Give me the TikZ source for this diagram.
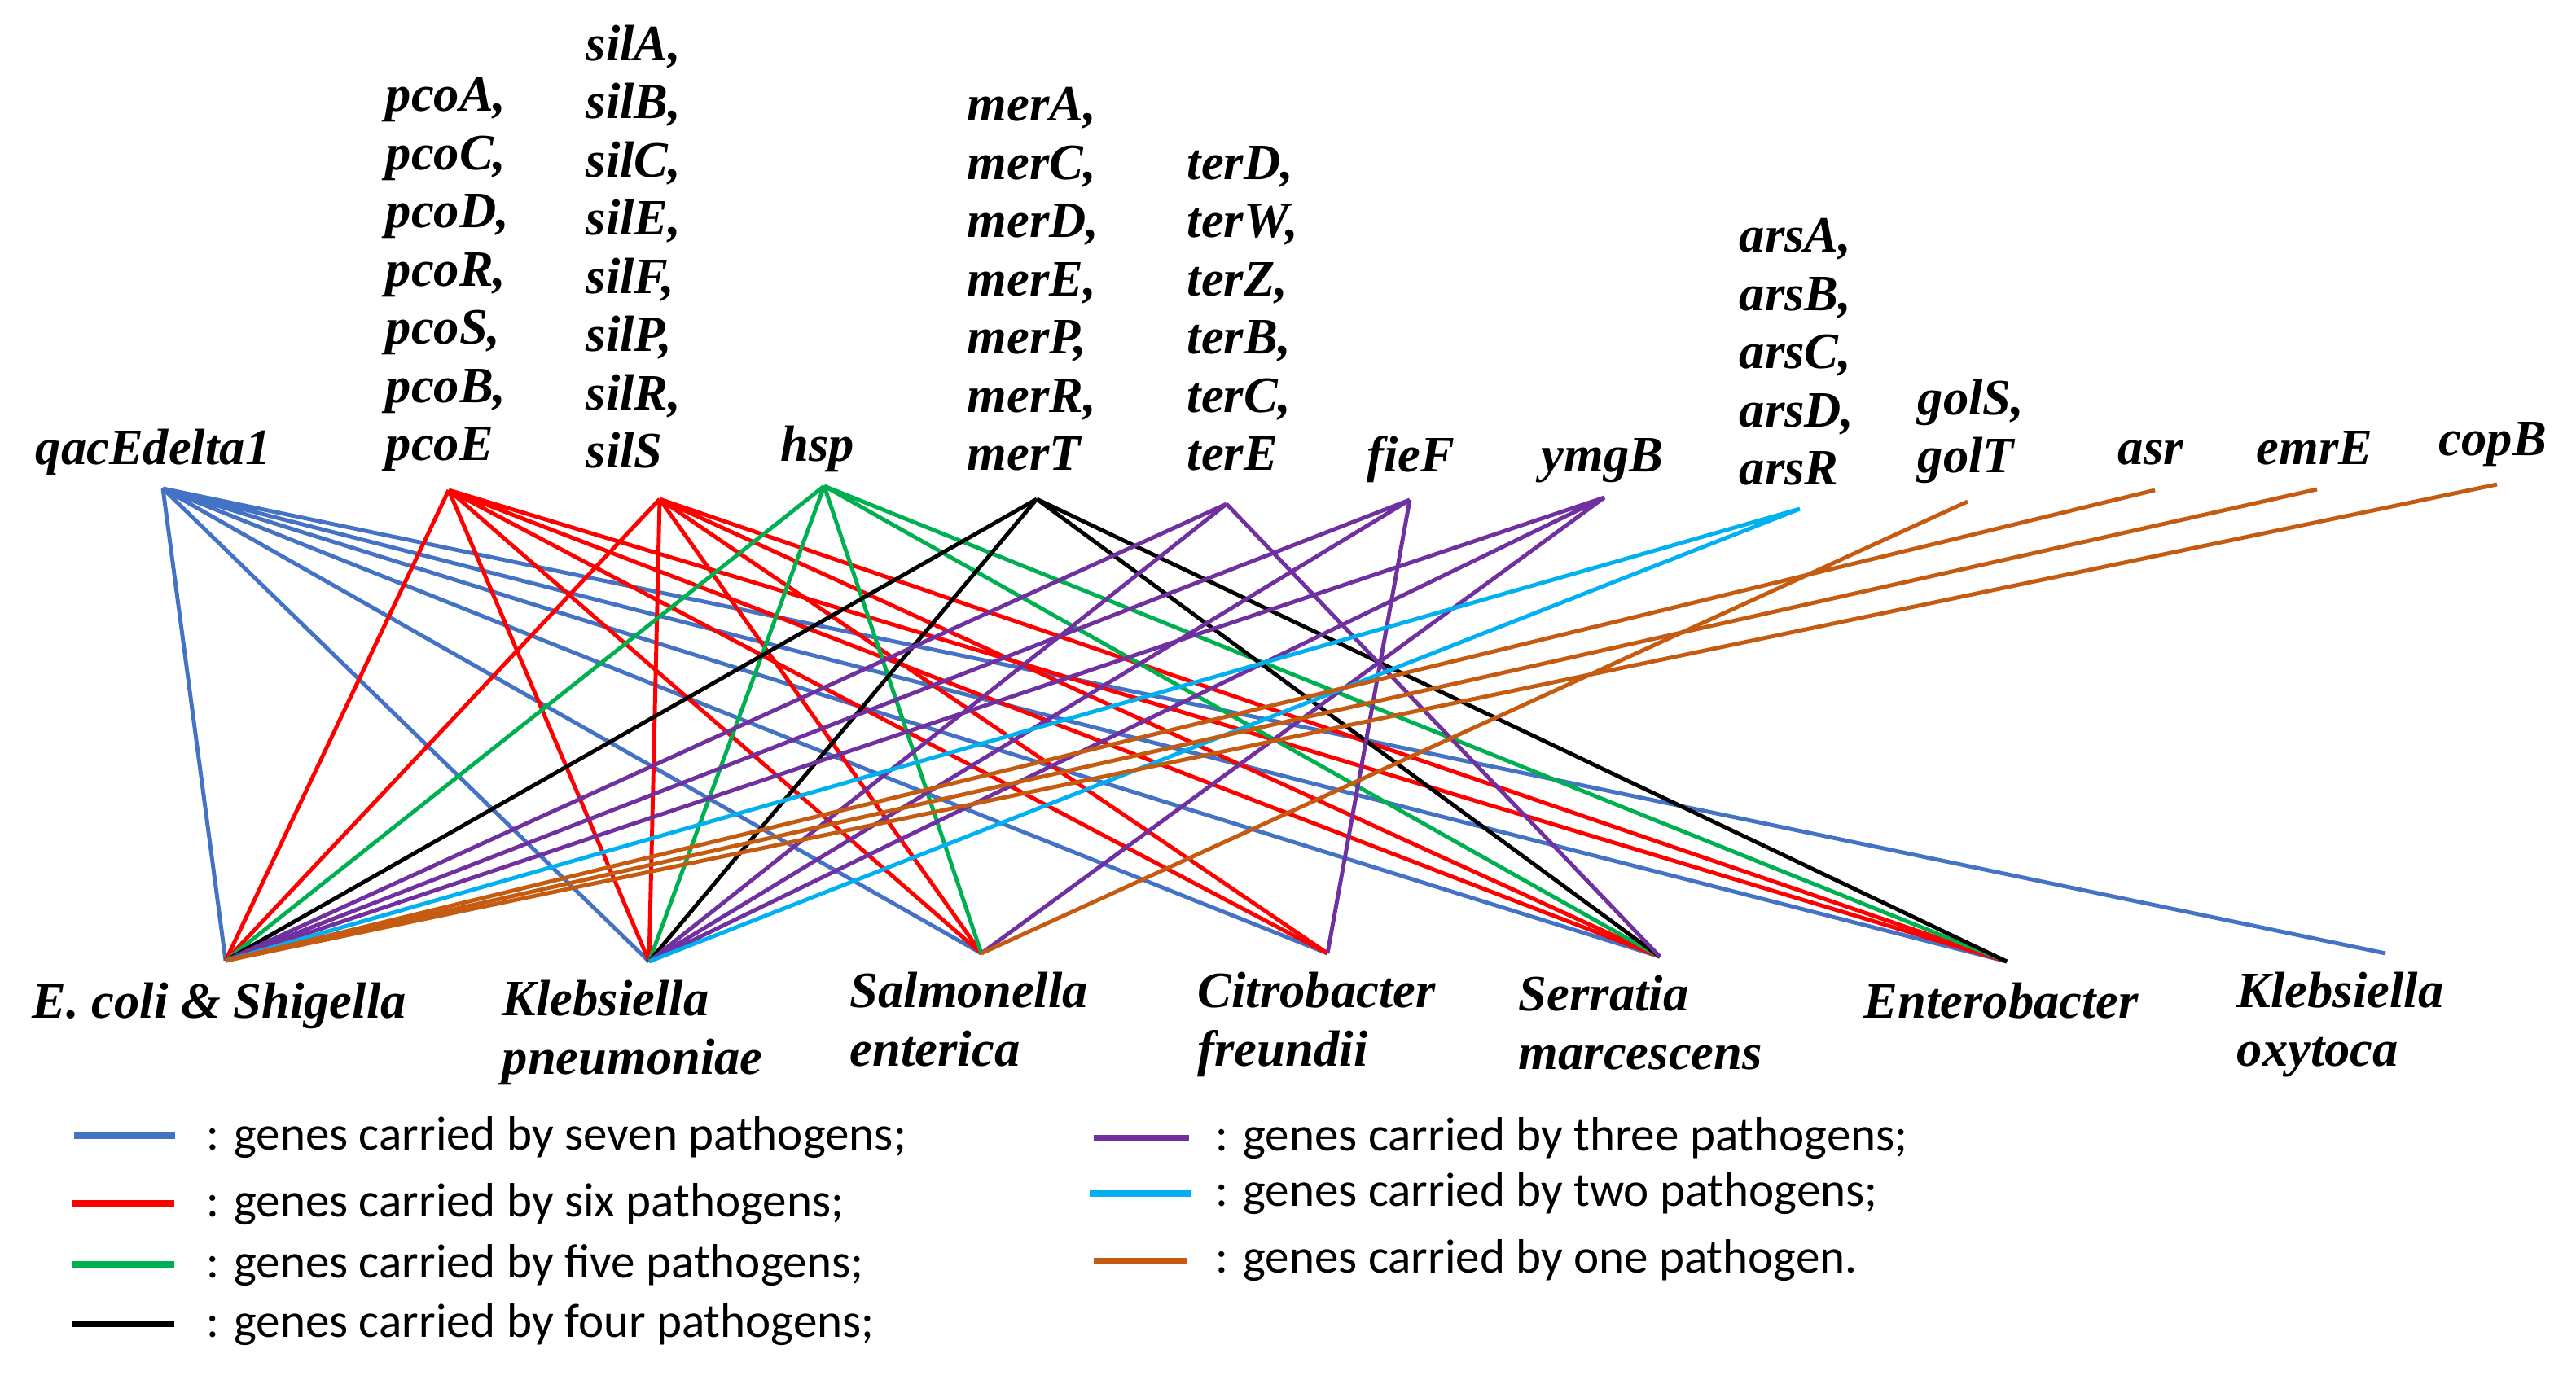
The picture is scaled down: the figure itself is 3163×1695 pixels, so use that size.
\documentclass[tikz,border=0pt]{standalone}
\usepackage{fontspec}
\usepackage{xcolor}
\usepackage{tikz}
\newfontfamily\genefont{Liberation Serif}
\newfontfamily\keyfont{Carlito}
\definecolor{gseven}{HTML}{4472C4}
\definecolor{gsix}{HTML}{FF0000}
\definecolor{gfive}{HTML}{00B050}
\definecolor{gfour}{HTML}{000000}
\definecolor{gthree}{HTML}{7030A0}
\definecolor{gtwo}{HTML}{00B0F0}
\definecolor{gone}{HTML}{C55A11}

\begin{document}
\begin{tikzpicture}[
    x=0.01cm, y=-0.01cm,
    gene/.style={anchor=base west, align=left, inner sep=0pt,
        font=\genefont\bfseries\itshape\fontsize{17.8}{20.35}\selectfont},
    key/.style={anchor=base west, inner sep=0pt,
        font=\keyfont\fontsize{16.8}{20}\selectfont},
    link/.style={line width=1.4pt},
    keyline/.style={line width=2.3pt},
    seven/.style={link, draw=gseven},
    six/.style={link, draw=gsix},
    five/.style={link, draw=gfive},
    four/.style={link, draw=gfour},
    three/.style={link, draw=gthree},
    two/.style={link, draw=gtwo},
    one/.style={link, draw=gone},
]
\useasboundingbox (0,0) rectangle (3163,1695);

% gene labels (base = last line)
\node[gene] (qac-l) at (43,571) {qacEdelta1};
\node[gene] (pco-l) at (473,566) {pcoA,\\pcoC,\\pcoD,\\pcoR,\\pcoS,\\pcoB,\\pcoE};
\node[gene] (sil-l) at (719,575) {silA,\\silB,\\silC,\\silE,\\silF,\\silP,\\silR,\\silS};
\node[gene] (hsp-l) at (958,567) {hsp};
\node[gene] (mer-l) at (1187,578) {merA,\\merC,\\merD,\\merE,\\merP,\\merR,\\merT};
\node[gene] (ter-l) at (1457,578) {terD,\\terW,\\terZ,\\terB,\\terC,\\terE};
\node[gene] (fie-l) at (1678,580) {fieF};
\node[gene] (ymg-l) at (1892,580) {ymgB};
\node[gene] (ars-l) at (2135,596) {arsA,\\arsB,\\arsC,\\arsD,\\arsR};
\node[gene] (gol-l) at (2354,581) {golS,\\golT};
\node[gene] (asr-l) at (2600,571) {asr};
\node[gene] (emr-l) at (2770,571) {emrE};
\node[gene] (cop-l) at (2994,560) {copB};

% pathogen labels
\node[gene] (eco-l) at (39,1250) {E. coli \& Shigella};
\node[gene] (kpn-l) at (616,1319) {Klebsiella\\pneumoniae};
\node[gene] (sal-l) at (1043,1309) {Salmonella\\enterica};
\node[gene] (cit-l) at (1470,1309) {Citrobacter\\freundii};
\node[gene] (ser-l) at (1864,1313) {Serratia\\marcescens};
\node[gene] (ent-l) at (2288,1250) {Enterobacter};
\node[gene] (kox-l) at (2746,1309) {Klebsiella\\oxytoca};

% line ends
\coordinate (qac) at (200,600);
\coordinate (pco) at (551,602);
\coordinate (sil) at (810,613);
\coordinate (hsp) at (1012,597);
\coordinate (mer) at (1273,613);
\coordinate (ter) at (1506,619);
\coordinate (fie) at (1731,614);
\coordinate (ymg) at (1970,611);
\coordinate (ars) at (2210,625);
\coordinate (gol) at (2416,616);
\coordinate (asr) at (2646,602);
\coordinate (emr) at (2845,601);
\coordinate (cop) at (3066,595);

\coordinate (eco) at (277,1180);
\coordinate (kpn) at (797,1181);
\coordinate (sal) at (1205,1171);
\coordinate (cit) at (1630,1171);
\coordinate (ser) at (2038,1175);
\coordinate (ent) at (2464,1181);
\coordinate (kox) at (2929,1171);

% links
\draw[seven] (qac) -- (eco) (qac) -- (kpn) (qac) -- (sal) (qac) -- (cit)
    (qac) -- (ser) (qac) -- (ent) (qac) -- (kox);
\draw[six] (pco) -- (eco) (pco) -- (kpn) (pco) -- (sal) (pco) -- (cit)
    (pco) -- (ser) (pco) -- (ent);
\draw[six] (sil) -- (eco) (sil) -- (kpn) (sil) -- (sal) (sil) -- (cit)
    (sil) -- (ser) (sil) -- (ent);
\draw[five] (hsp) -- (eco) (hsp) -- (kpn) (hsp) -- (sal) (hsp) -- (ser) (hsp) -- (ent);
\draw[four] (mer) -- (eco) (mer) -- (kpn) (mer) -- (ser) (mer) -- (ent);
\draw[three] (ter) -- (eco) (ter) -- (kpn) (ter) -- (ser);
\draw[three] (fie) -- (eco) (fie) -- (kpn) (fie) -- (cit);
\draw[three] (ymg) -- (eco) (ymg) -- (kpn) (ymg) -- (sal);
\draw[two] (ars) -- (eco) (ars) -- (kpn);
\draw[one] (gol) -- (sal);
\draw[one] (asr) -- (eco);
\draw[one] (emr) -- (eco);
\draw[one] (cop) -- (eco);

% legend
\draw[keyline, gseven] (91,1395) -- (215,1395);
\node[key] (k7) at (253,1412) {: genes carried by seven pathogens;};
\draw[keyline, gsix] (88,1478) -- (214,1478);
\node[key] (k6) at (253,1494) {: genes carried by six pathogens;};
\draw[keyline, gfive] (88,1553) -- (214,1553);
\node[key] (k5) at (253,1569) {: genes carried by five pathogens;};
\draw[keyline, gfour] (88,1626) -- (214,1626);
\node[key] (k4) at (253,1642) {: genes carried by four pathogens;};
\draw[keyline, gthree] (1343,1398) -- (1460,1398);
\node[key] (k3) at (1492,1413) {: genes carried by three pathogens;};
\draw[keyline, gtwo] (1338,1466) -- (1462,1466);
\node[key] (k2) at (1492,1481) {: genes carried by two pathogens;};
\draw[keyline, gone] (1343,1549) -- (1457,1549);
\node[key] (k1) at (1492,1563) {: genes carried by one pathogen.};
\end{tikzpicture}
\end{document}
